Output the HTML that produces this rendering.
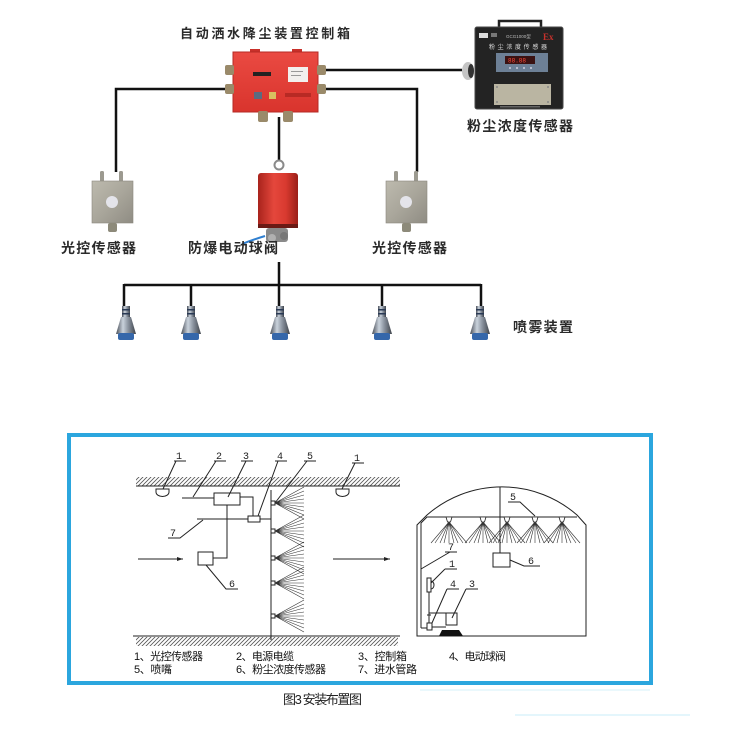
<!DOCTYPE html>
<html><head><meta charset="utf-8"><style>
html,body{margin:0;padding:0;background:#fff;}
svg{display:block;}
.lb{font-family:"Liberation Sans","Noto Sans CJK SC",sans-serif;font-weight:bold;fill:#2a2a2a;}
.lg{font-family:"Liberation Sans","Noto Sans CJK SC",sans-serif;fill:#111;font-size:11px;}
.nm{font-family:"Liberation Mono","DejaVu Sans Mono",monospace;fill:#222;font-size:10px;}
</style></head><body>
<svg width="750" height="750" viewBox="0 0 750 750" xmlns="http://www.w3.org/2000/svg">
<defs>
<pattern id="h" width="4" height="4" patternUnits="userSpaceOnUse"><path d="M0,4 L4,0 M-1,1 L1,-1 M3,5 L5,3" stroke="#555" stroke-width="0.8"/></pattern>
<linearGradient id="steel" x1="0" x2="1" y1="0" y2="0"><stop offset="0" stop-color="#4a4f58"/><stop offset="0.35" stop-color="#c9d2dc"/><stop offset="0.6" stop-color="#8d96a2"/><stop offset="1" stop-color="#3e434b"/></linearGradient>
<linearGradient id="redc" x1="0" x2="1" y1="0" y2="0"><stop offset="0" stop-color="#a8231c"/><stop offset="0.4" stop-color="#e5473c"/><stop offset="0.7" stop-color="#d8392f"/><stop offset="1" stop-color="#9a1f18"/></linearGradient>
<linearGradient id="box" x1="0" x2="1" y1="0" y2="1"><stop offset="0" stop-color="#bdbaae"/><stop offset="0.5" stop-color="#a9a69b"/><stop offset="1" stop-color="#8f8c83"/></linearGradient>
<linearGradient id="redb" x1="0" x2="0" y1="0" y2="1"><stop offset="0" stop-color="#ea4a42"/><stop offset="1" stop-color="#d9342d"/></linearGradient>
<g id="noz">
<rect x="-4" y="306" width="8" height="11" fill="url(#steel)"/>
<rect x="-4" y="309" width="8" height="1.5" fill="#2a3a55"/>
<rect x="-4" y="313" width="8" height="1.5" fill="#2a3a55"/>
<path d="M-5,317 L5,317 L10,334 L-10,334 Z" fill="url(#steel)"/>
<rect x="-8" y="333" width="16" height="7" rx="2" fill="#3567aa"/>
</g>
</defs>

<!-- ===== TOP SECTION ===== -->
<text class="lb" x="180" y="38" font-size="13" textLength="170" lengthAdjust="spacing">自动洒水降尘装置控制箱</text>

<!-- wires -->
<g stroke="#111" stroke-width="2.5" fill="none">
<path d="M226,89 H116 V172"/>
<path d="M326,89 H417 V172"/>
<path d="M326,70 H462"/>
<path d="M279,117 V160"/>
<path d="M279,262 V285 M124,285 H481 M124,284 V307 M191,284 V307 M279,284 V307 M382,284 V307 M481,284 V307"/>
</g>

<!-- red control box -->
<rect x="250" y="49" width="10" height="4" fill="#c9302a"/>
<rect x="292" y="49" width="10" height="4" fill="#c9302a"/>
<rect x="233" y="52" width="85" height="60" fill="url(#redb)" stroke="#b52a24" stroke-width="1"/>
<g fill="#9a8a6a">
<rect x="225" y="65" width="9" height="10" rx="2"/><rect x="225" y="84" width="9" height="10" rx="2"/>
<rect x="317" y="65" width="9" height="10" rx="2"/><rect x="317" y="84" width="9" height="10" rx="2"/>
<rect x="258" y="111" width="10" height="11" rx="2"/><rect x="283" y="111" width="10" height="11" rx="2"/>
</g>
<rect x="253" y="72" width="18" height="4" fill="#222"/>
<rect x="288" y="67" width="20" height="15" fill="#f2f0ee"/>
<rect x="291" y="71" width="12" height="1" fill="#999"/><rect x="291" y="75" width="10" height="1" fill="#999"/>
<rect x="254" y="92" width="8" height="7" fill="#5b6b80"/>
<rect x="269" y="92" width="7" height="7" fill="#d8c060"/>
<rect x="285" y="93" width="26" height="4" fill="#b82a24"/>

<!-- dust sensor -->
<path d="M499,28 V21 H541 V28" stroke="#222" stroke-width="2.5" fill="none"/>
<ellipse cx="468" cy="71" rx="6" ry="9" fill="#c4c4c4"/>
<ellipse cx="471" cy="71" rx="3" ry="7" fill="#333"/>
<rect x="475" y="27" width="88" height="82" rx="2" fill="#232323" stroke="#4a4a4a" stroke-width="1"/>
<rect x="479" y="33" width="9" height="5" fill="#ddd"/>
<rect x="491" y="33" width="6" height="4" fill="#777"/>
<text x="506" y="38" font-size="4.5" fill="#bbb" font-family="Liberation Sans,sans-serif">GCG1000型</text>
<text x="543" y="40" font-size="9" fill="#c8322c" font-weight="bold" font-family="Liberation Serif,serif">Ex</text>
<text x="489" y="49" font-size="6" fill="#ddd" textLength="58" lengthAdjust="spacing" font-family="Liberation Sans,'Noto Sans CJK SC',sans-serif">粉尘浓度传感器</text>
<rect x="496" y="53" width="52" height="19" fill="#6d8096"/>
<rect x="505" y="56" width="30" height="8" fill="#3a1212"/>
<text x="508" y="62.5" font-size="6" fill="#ff4a3a" font-family="Liberation Mono,monospace">88.88</text>
<g fill="#ccd"><circle cx="510" cy="68" r="1"/><circle cx="517" cy="68" r="1"/><circle cx="524" cy="68" r="1"/><circle cx="531" cy="68" r="1"/></g>
<rect x="494" y="84" width="57" height="21" fill="#bab5a2"/>
<g fill="#888"><circle cx="497" cy="87" r="1"/><circle cx="548" cy="87" r="1"/><circle cx="497" cy="102" r="1"/><circle cx="548" cy="102" r="1"/></g>
<rect x="500" y="106" width="40" height="1.5" fill="#666"/>

<!-- light sensors -->
<g>
<rect x="100" y="171" width="4" height="11" rx="1.5" fill="#9c9a90"/>
<rect x="119" y="171" width="4" height="11" rx="1.5" fill="#9c9a90"/>
<rect x="92" y="181" width="41" height="42" fill="url(#box)" stroke="#8a877e" stroke-width="0.6"/>
<circle cx="112" cy="202" r="6" fill="#e4e4ea"/>
<rect x="108" y="223" width="9" height="9" rx="2" fill="#8d8a7a"/>
</g>
<g>
<rect x="394" y="171" width="4" height="11" rx="1.5" fill="#9c9a90"/>
<rect x="414" y="171" width="4" height="11" rx="1.5" fill="#9c9a90"/>
<rect x="386" y="181" width="41" height="42" fill="url(#box)" stroke="#8a877e" stroke-width="0.6"/>
<circle cx="406" cy="202" r="6" fill="#e4e4ea"/>
<rect x="402" y="223" width="9" height="9" rx="2" fill="#8d8a7a"/>
</g>

<!-- valve -->
<circle cx="279" cy="165" r="4.5" stroke="#8a8a8a" stroke-width="2" fill="none"/>
<rect x="258" y="173" width="40" height="55" rx="3" fill="url(#redc)"/>
<rect x="258" y="224" width="40" height="4" fill="#6a1a15"/>
<rect x="266" y="228" width="22" height="14" rx="3" fill="#8a8a8a"/>
<circle cx="272" cy="238" r="4" fill="#b0b0b0"/><circle cx="284" cy="236" r="4" fill="#777"/>
<path d="M242,244 Q252,240 265,236" stroke="#2f7fd0" stroke-width="2" fill="none"/>

<!-- labels -->
<text class="lb" x="61" y="253" font-size="14" textLength="75" lengthAdjust="spacing">光控传感器</text>
<text class="lb" x="188" y="253" font-size="14" textLength="90" lengthAdjust="spacing">防爆电动球阀</text>
<text class="lb" x="372" y="253" font-size="14" textLength="75" lengthAdjust="spacing">光控传感器</text>
<text class="lb" x="467" y="131" font-size="14" textLength="106" lengthAdjust="spacing">粉尘浓度传感器</text>
<text class="lb" x="513" y="332" font-size="14" textLength="60" lengthAdjust="spacing">喷雾装置</text>

<!-- nozzles -->
<use href="#noz" x="126"/>
<use href="#noz" x="191"/>
<use href="#noz" x="280"/>
<use href="#noz" x="382"/>
<use href="#noz" x="480"/>

<!-- ===== BOTTOM FRAME ===== -->
<rect x="69" y="435" width="582" height="248" fill="#fff" stroke="#2ba6de" stroke-width="4"/>

<!-- left diagram -->
<rect x="136" y="477" width="264" height="9" fill="url(#h)"/>
<rect x="136" y="637" width="262" height="9" fill="url(#h)"/>
<g stroke="#222" stroke-width="1" fill="none">
<path d="M136,486 H400"/>
<path d="M133,636 H400"/>
<!-- sensors 1 -->
<path d="M156,489 h13 v3 a6.5,4.5 0 0 1 -13,0 z" fill="#fff"/>
<path d="M336,489 h13 v3 a6.5,4.5 0 0 1 -13,0 z" fill="#fff"/>
<!-- cable 2, box 3 -->
<path d="M182,498 H214"/>
<rect x="214" y="493" width="26" height="12" fill="#fff"/>
<path d="M240,497 H253 V516"/>
<rect x="248" y="516" width="12" height="6" fill="#fff"/>
<path d="M197,519 H248 M260,519 H271"/>
<path d="M227,505 V558 H213"/>
<rect x="198" y="552" width="15" height="13" fill="#fff"/>
<!-- vertical pipe -->
<path d="M271,490 V640"/>
<!-- arrows -->
<path d="M138,559 H183 M333,559 H390"/>
<!-- leaders -->
<path d="M174,461 H186 M176,461 L163,489"/>
<path d="M214,461 H226 M216,461 L193,497"/>
<path d="M241,461 H253 M246,461 L228,497"/>
<path d="M275,461 H287 M278,461 L258,516"/>
<path d="M304,461 H316 M307,461 L275,503"/>
<path d="M352,463 H364 M355,463 L342,489"/>
<path d="M168,538 H180 L203,520"/>
<path d="M206,565 L226,589 H238"/>
</g>
<path d="M183,559 l-6,-2 v4 z M390,559 l-6,-2 v4 z" fill="#222"/>
<g fill="#fff" stroke="#222" stroke-width="1">
<rect x="271" y="501" width="4" height="4"/><rect x="271" y="529" width="4" height="4"/><rect x="271" y="556" width="4" height="4"/><rect x="271" y="581" width="4" height="4"/><rect x="271" y="614" width="4" height="4"/>
</g>
<g stroke="#333" stroke-width="0.6" fill="none">
<path d="M275 503L304 487M275 503L304 491M275 503L304 495M275 503L304 499M275 503L304 503M275 503L304 507M275 503L304 511M275 503L304 515M275 503L304 519"/>
<path d="M275 531L304 515M275 531L304 519M275 531L304 523M275 531L304 527M275 531L304 531M275 531L304 535M275 531L304 539M275 531L304 543M275 531L304 547"/>
<path d="M275 558L304 542M275 558L304 546M275 558L304 550M275 558L304 554M275 558L304 558M275 558L304 562M275 558L304 566M275 558L304 570M275 558L304 574"/>
<path d="M275 583L304 567M275 583L304 571M275 583L304 575M275 583L304 579M275 583L304 583M275 583L304 587M275 583L304 591M275 583L304 595M275 583L304 599"/>
<path d="M275 616L304 600M275 616L304 604M275 616L304 608M275 616L304 612M275 616L304 616M275 616L304 620M275 616L304 624M275 616L304 628M275 616L304 632"/>
</g>
<text class="nm" x="176" y="459">1</text>
<text class="nm" x="216" y="459">2</text>
<text class="nm" x="243" y="459">3</text>
<text class="nm" x="277" y="459">4</text>
<text class="nm" x="307" y="459">5</text>
<text class="nm" x="354" y="461">1</text>
<text class="nm" x="170" y="536">7</text>
<text class="nm" x="229" y="587">6</text>

<!-- right diagram -->
<g stroke="#222" stroke-width="1" fill="none">
<path d="M417,636 V525 L427,515 A114,114 0 0 1 577,515 L586,525 V636 Z"/>
<path d="M421,628 V523 L427,517 H577"/>
<path d="M500,487 V553"/>
<rect x="493" y="553" width="17" height="14" fill="#fff"/>
<path d="M510,560 L524,566 H540"/>
<path d="M508,502 H520 L535,516"/>
<path d="M445,552 H457 M450,552 L421,569"/>
<rect x="427" y="578" width="4" height="14" fill="#fff"/>
<path d="M431,581 a3,4 0 0 1 0,8"/>
<path d="M445,569 H457 M445,569 L431,583"/>
<path d="M429,592 V613 H452 V613"/>
<rect x="446" y="613" width="11" height="12" fill="#fff"/>
<path d="M421,628 H427"/>
<rect x="427" y="623" width="5" height="7" fill="#fff"/>
<path d="M429,612 V623 M427,615 h4"/>
<path d="M432,627 H446"/>
<path d="M447,589 H459 M447,589 L432,623"/>
<path d="M466,589 H478 M466,589 L452,618"/>
</g>
<path d="M442,630 H459 L463,636 H439 Z" fill="#111"/>
<g fill="#fff" stroke="#222" stroke-width="0.8">
<path d="M446,517 h6 l-1.5,5 h-3 z"/><path d="M480,517 h6 l-1.5,5 h-3 z"/><path d="M504,517 h6 l-1.5,5 h-3 z"/><path d="M532,517 h6 l-1.5,5 h-3 z"/><path d="M559,517 h6 l-1.5,5 h-3 z"/>
</g>
<g stroke="#333" stroke-width="0.6" fill="none">
<path d="M449 522L431 543M449 522L435 543M449 522L440 543M449 522L444 543M449 522L449 543M449 522L454 543M449 522L458 543M449 522L463 543M449 522L467 543"/>
<path d="M483 522L465 543M483 522L469 543M483 522L474 543M483 522L478 543M483 522L483 543M483 522L488 543M483 522L492 543M483 522L497 543M483 522L501 543"/>
<path d="M507 522L489 543M507 522L493 543M507 522L498 543M507 522L502 543M507 522L507 543M507 522L512 543M507 522L516 543M507 522L521 543M507 522L525 543"/>
<path d="M535 522L517 543M535 522L521 543M535 522L526 543M535 522L530 543M535 522L535 543M535 522L540 543M535 522L544 543M535 522L549 543M535 522L553 543"/>
<path d="M562 522L544 543M562 522L548 543M562 522L553 543M562 522L557 543M562 522L562 543M562 522L567 543M562 522L571 543M562 522L576 543M562 522L580 543"/>
</g>
<text class="nm" x="510" y="500">5</text>
<text class="nm" x="528" y="564">6</text>
<text class="nm" x="448" y="550">7</text>
<text class="nm" x="449" y="567">1</text>
<text class="nm" x="450" y="587">4</text>
<text class="nm" x="469" y="587">3</text>

<!-- legend -->
<text class="lg" x="134" y="660" textLength="69" lengthAdjust="spacing">1、光控传感器</text>
<text class="lg" x="236" y="660" textLength="58" lengthAdjust="spacing">2、电源电缆</text>
<text class="lg" x="358" y="660" textLength="49" lengthAdjust="spacing">3、控制箱</text>
<text class="lg" x="449" y="660" textLength="57" lengthAdjust="spacing">4、电动球阀</text>
<text class="lg" x="134" y="673" textLength="38" lengthAdjust="spacing">5、喷嘴</text>
<text class="lg" x="236" y="673" textLength="90" lengthAdjust="spacing">6、粉尘浓度传感器</text>
<text class="lg" x="358" y="673" textLength="59" lengthAdjust="spacing">7、进水管路</text>

<!-- caption -->
<text x="283" y="704" font-size="13" fill="#222" textLength="79" lengthAdjust="spacing" font-family="Liberation Sans,'Noto Sans CJK SC',sans-serif">图3 安装布置图</text>
<path d="M420,690 H650" stroke="#d6f1fa" stroke-width="1"/>
<path d="M515,715 H690" stroke="#c9eef9" stroke-width="1"/>
</svg>
</body></html>
